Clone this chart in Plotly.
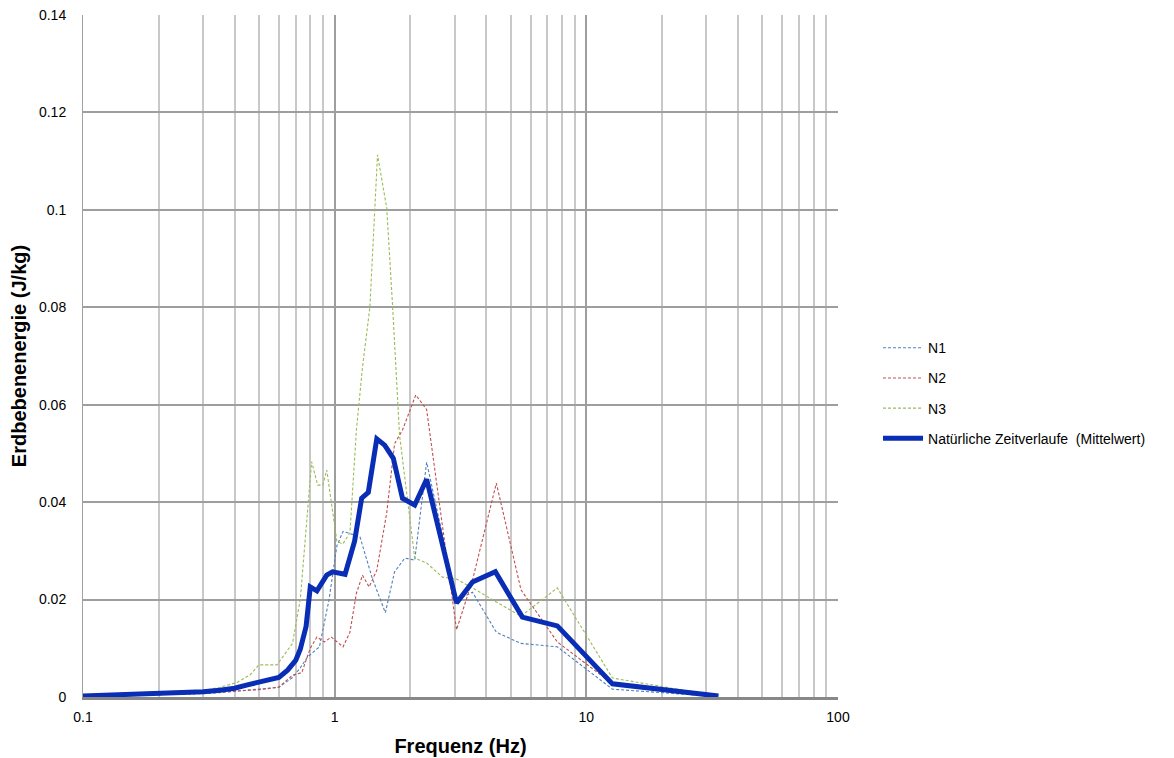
import plotly.graph_objects as go

# ---- data ----
f_n1 = [0.1, 0.16, 0.2, 0.25, 0.3, 0.35, 0.4, 0.5, 0.6, 0.68, 0.73, 0.78, 0.87, 0.95, 1.02, 1.08, 1.17, 1.26, 1.41, 1.59, 1.73, 1.9, 2.08, 2.32, 3.05, 3.53, 4.39, 5.5, 7.67, 12.7, 33]
v_n1 = [0.0001, 0.0003, 0.0004, 0.0005, 0.0007, 0.0009, 0.0012, 0.0016, 0.002, 0.004, 0.006, 0.0082, 0.0103, 0.02, 0.031, 0.034, 0.0335, 0.0329, 0.0244, 0.0173, 0.0257, 0.0285, 0.0281, 0.0482, 0.0199, 0.0215, 0.0133, 0.011, 0.0103, 0.0016, 0.0001]

f_n2 = [0.1, 0.16, 0.2, 0.25, 0.3, 0.35, 0.4, 0.5, 0.6, 0.68, 0.74, 0.8, 0.85, 0.91, 0.97, 1.08, 1.15, 1.22, 1.29, 1.37, 1.47, 1.61, 1.73, 1.86, 2.1, 2.32, 3.05, 3.53, 4.39, 5.5, 7.67, 12.7, 33]
v_n2 = [0.0001, 0.0003, 0.0004, 0.0006, 0.0008, 0.001, 0.0012, 0.0015, 0.002, 0.0045, 0.005, 0.01, 0.0123, 0.0113, 0.0123, 0.0103, 0.0133, 0.0213, 0.025, 0.0226, 0.026, 0.0378, 0.052, 0.0548, 0.062, 0.059, 0.0138, 0.024, 0.0439, 0.022, 0.0113, 0.0027, 0.0002]

f_n3 = [0.1, 0.16, 0.2, 0.25, 0.3, 0.35, 0.41, 0.46, 0.5, 0.59, 0.68, 0.73, 0.76, 0.81, 0.856, 0.897, 0.93, 1.02, 1.076, 1.15, 1.22, 1.29, 1.38, 1.48, 1.61, 1.70, 1.81, 2.08, 2.32, 2.68, 3.05, 3.53, 4.39, 5.5, 7.67, 12.7, 33]
v_n3 = [0.0002, 0.0004, 0.0006, 0.0009, 0.0013, 0.002, 0.003, 0.0045, 0.0066, 0.0066, 0.011, 0.02, 0.031, 0.0483, 0.0435, 0.0435, 0.0466, 0.032, 0.0314, 0.0337, 0.0548, 0.0677, 0.080, 0.1113, 0.1004, 0.080, 0.0538, 0.0285, 0.0275, 0.0246, 0.0242, 0.0224, 0.0195, 0.0166, 0.0224, 0.0039, 0.0002]

f_mean = [0.1, 0.16, 0.2, 0.25, 0.3, 0.35, 0.4, 0.45, 0.5, 0.55, 0.6, 0.65, 0.7, 0.73, 0.77, 0.8, 0.85, 0.93, 0.98, 1.1, 1.2, 1.28, 1.36, 1.47, 1.58, 1.71, 1.86, 2.08, 2.32, 3.05, 3.53, 4.35, 5.57, 7.67, 12.7, 33.5]
v_mean = [0.0002, 0.0005, 0.0006, 0.0008, 0.0011, 0.0014, 0.0018, 0.0025, 0.003, 0.0035, 0.004, 0.0055, 0.0075, 0.0098, 0.0145, 0.0226, 0.0218, 0.025, 0.0257, 0.0252, 0.032, 0.0408, 0.042, 0.053, 0.0517, 0.049, 0.0408, 0.0394, 0.0447, 0.0193, 0.0236, 0.0257, 0.0164, 0.0146, 0.0027, 0.0002]

names = ["N1", "N2", "N3", "Natürliche Zeitverlaufe  (Mittelwert)"]
colors = ["#4F81BD", "#C0504D", "#9BBB59", "#0A2DB5"]

x_tickvals = [0.1, 1, 10, 100]
x_ticktext = ["0.1", "1", "10", "100"]
y_tickvals = [0, 0.02, 0.04, 0.06, 0.08, 0.1, 0.12, 0.14]
y_ticktext = ["0", "0.02", "0.04", "0.06", "0.08", "0.1", "0.12", "0.14"]

FONT = "Liberation Sans, Arial, sans-serif"

fig = go.Figure()
series = [(f_n1, v_n1), (f_n2, v_n2), (f_n3, v_n3)]
for i, (fx, vy) in enumerate(series):
    fig.add_trace(go.Scatter(
        x=fx, y=vy, mode="lines", name=names[i], legendgroup=names[i],
        line=dict(color=colors[i], width=1.1, dash="3px,2px"),
    ))
fig.add_trace(go.Scatter(
    x=f_mean, y=v_mean, mode="lines", name=names[3], legendgroup=names[3],
    line=dict(color=colors[3], width=5),
))

# the page body adds an 8px margin, so the figure is sized to fit inside the window
fig.update_layout(
    width=1166, height=750,
    margin=dict(l=75, r=336, t=7, b=61, autoexpand=False),
    paper_bgcolor="white", plot_bgcolor="white",
    font=dict(family=FONT, size=14, color="#000"),
    legend=dict(x=1.053, y=0.535, xanchor="left", yanchor="top",
                font=dict(size=14), tracegroupgap=9, itemwidth=40,
                bgcolor="rgba(0,0,0,0)"),
    showlegend=True,
)
fig.update_xaxes(
    type="log", range=[-1, 2], automargin=False,
    tickvals=x_tickvals, ticktext=x_ticktext,
    showgrid=True, gridcolor="#9E9E9E", gridwidth=1.5,
    minor=dict(dtick="D1", showgrid=True, gridcolor="#C8C8C8", gridwidth=1.5, ticks=""),
    showline=True, linecolor="#888888", linewidth=2.5,
    ticks="", ticklabelstandoff=5, ticklabeloverflow="allow",
    tickfont=dict(size=14),
    zeroline=False, mirror=False,
    title=dict(text="<b>Frequenz (Hz)</b>", font=dict(size=20, family=FONT), standoff=16),
)
fig.update_yaxes(
    range=[0, 0.14], automargin=False,
    tickvals=y_tickvals, ticktext=y_ticktext,
    showgrid=True, gridcolor="#9E9E9E", gridwidth=1.5,
    showline=True, linecolor="#A0A0A0", linewidth=1,
    ticks="", zeroline=False, ticklabelstandoff=13, ticklabeloverflow="allow",
    tickfont=dict(size=14),
    title=dict(text="<b>Erdbebenenergie (J/kg)</b>", font=dict(size=20, family=FONT), standoff=8),
)

fig.write_html("out.html")
